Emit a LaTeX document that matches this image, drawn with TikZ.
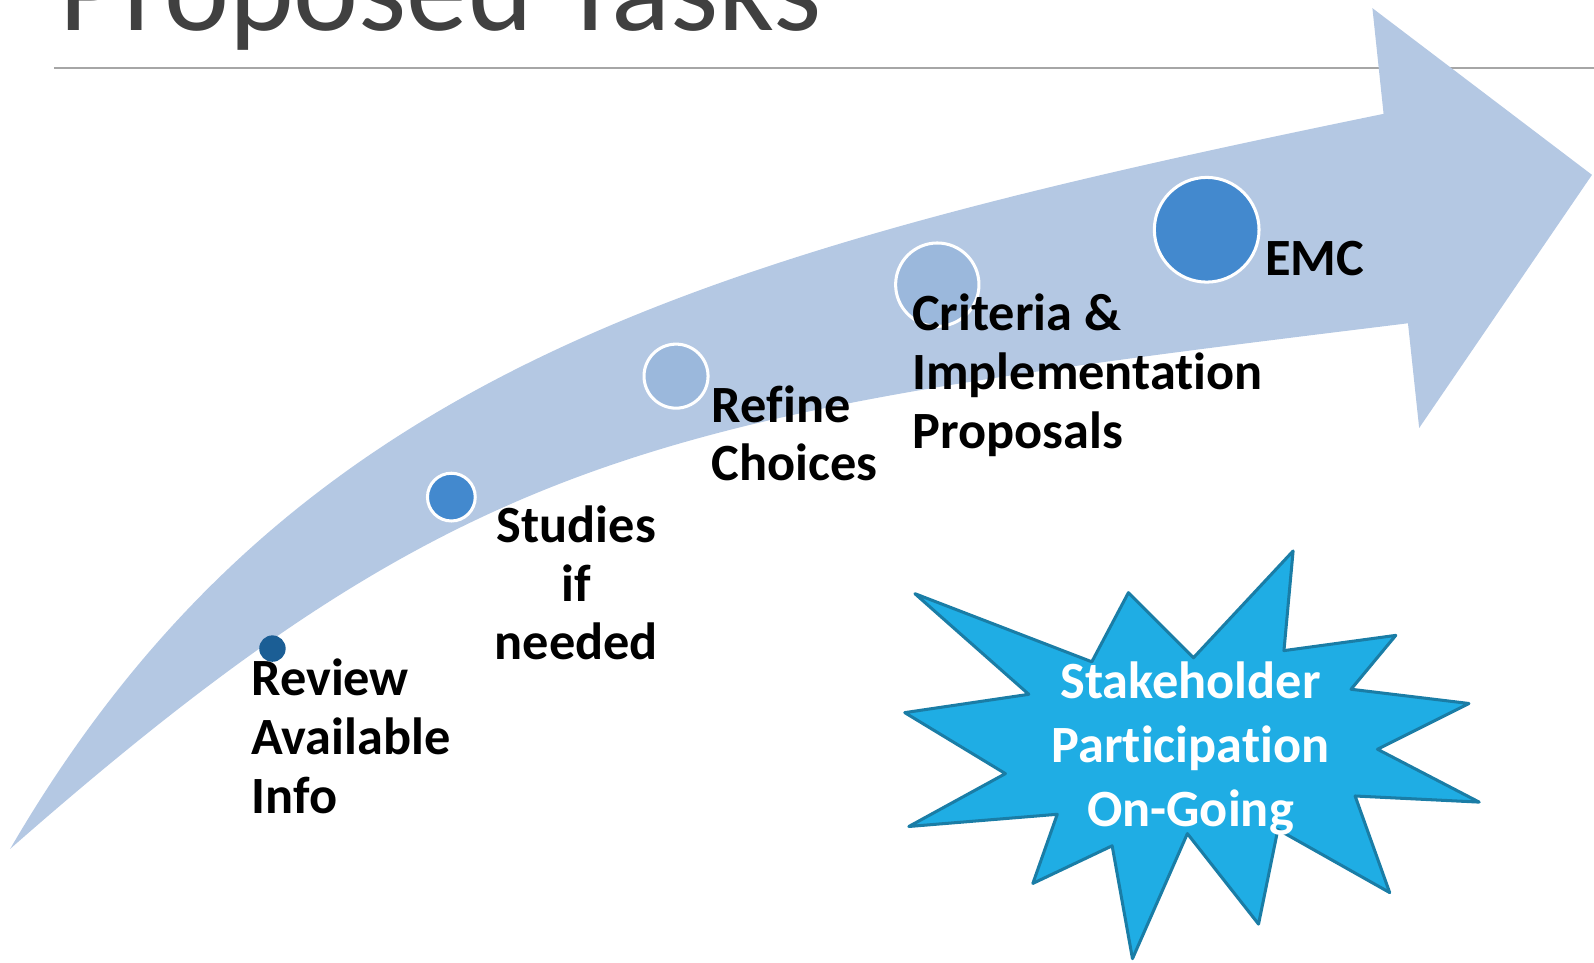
\documentclass[tikz,border=0pt]{standalone}
\usepackage{fontspec}
\setmainfont{Carlito}[Ligatures=NoCommon]
\usetikzlibrary{positioning}

\definecolor{arrowblue}{HTML}{B4C8E3}
\definecolor{darkdot}{HTML}{1B5E95}
\definecolor{middot}{HTML}{4389CE}
\definecolor{palediot}{HTML}{9BB8DC}
\definecolor{starfill}{HTML}{1FADE4}
\definecolor{starline}{HTML}{1A7DA6}
\definecolor{titlegray}{HTML}{404040}
\definecolor{rulegray}{HTML}{A6A6A6}

\tikzset{
  stagetext/.style={font=\bfseries\fontsize{29.3}{32.9}\selectfont, inner sep=0pt, align=left, anchor=base west},
  stagedot/.style={circle, draw=white, line width=1.7pt, inner sep=0pt},
}

\begin{document}
\begin{tikzpicture}[x=0.02cm,y=-0.02cm]
\useasboundingbox (0,0) rectangle (1568,947);

% title and rule
\node[anchor=base west, inner sep=0pt, text=titlegray, font=\fontsize{69}{80}\selectfont] (title) at (58,30) {Proposed Tasks};
\coordinate (ruleL) at (53,67);
\coordinate (ruleR) at (1568,67);
\draw[rulegray, line width=0.85pt] (ruleL) -- (ruleR);

% curved arrow
\fill[arrowblue] (10,835) .. controls (283,366) and (688,250) .. (1361,112)
  -- (1350,8) -- (1566,172) -- (1396,421) -- (1385,318)
  .. controls (652,408) and (467,434) .. (10,835) -- cycle;

% stages
\node[circle, fill=darkdot, inner sep=0pt, minimum size=0.52cm] (review) at (268,638) {};
\node[stagedot, fill=middot, minimum size=0.94cm] (studies) at (444,489) {};
\node[stagedot, fill=palediot, minimum size=1.26cm] (refine) at (665,370) {};
\node[stagedot, fill=palediot, minimum size=1.64cm] (criteria) at (922,280) {};
\node[stagedot, fill=middot, minimum size=2.06cm] (emc) at (1187,226) {};

% labels (base = last line)
\node[stagetext] (reviewtext) at (247,800) {Review\\Available\\Info};
\node[stagetext, align=center, anchor=base] (studiestext) at (567,649) {Studies\\if\\needed};
\node[stagetext] (refinetext) at (700,473) {Refine\\Choices};
\node[stagetext] (criteriatext) at (897,441) {Criteria \&\\Implementation\\Proposals};
\node[stagetext] (emctext) at (1244,271) {EMC};

% burst
\draw[starline, fill=starfill, line width=1.7pt, line join=round]
  (900,584) -- (1074,651) -- (1110,583) -- (1174,647) -- (1272,542) -- (1263,640)
  -- (1373,625) -- (1329,678) -- (1445,692) -- (1355,737) -- (1455,789) -- (1333,783)
  -- (1367,878) -- (1257,816) -- (1238,909) -- (1168,820) -- (1114,943) -- (1094,832)
  -- (1016,869) -- (1040,801) -- (894,813) -- (989,761) -- (890,701) -- (1012,683) -- cycle;
\node[stagetext, align=center, anchor=base, text=white, font=\bfseries\fontsize{29.3}{35.7}\selectfont] (stakeholder) at (1171,813) {Stakeholder\\Participation\\On-Going};
\end{tikzpicture}
\end{document}
